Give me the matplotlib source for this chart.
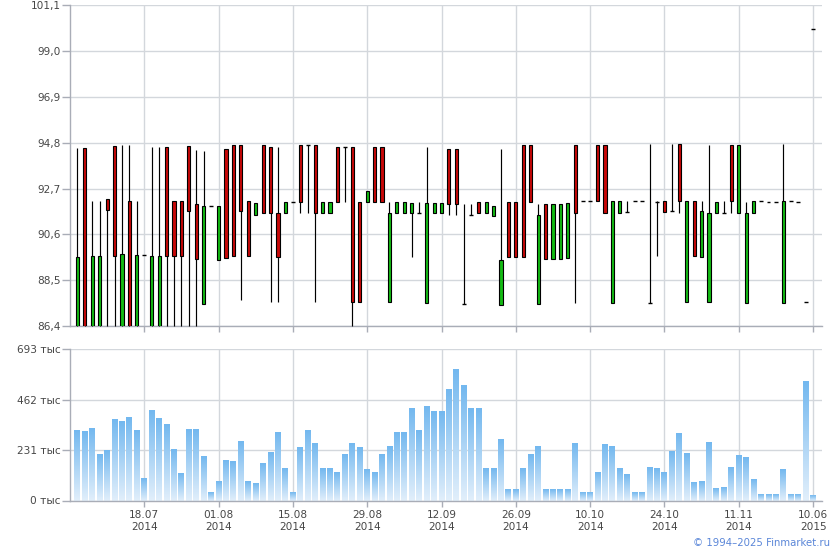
import numpy as np
import matplotlib
matplotlib.use("Agg")
import matplotlib.pyplot as plt
from matplotlib.colors import LinearSegmentedColormap
from matplotlib.patches import Rectangle

# ---------------- data ----------------
opens = [86.4, 94.57, 86.4, 86.4, 92.2, 94.66, 86.4, 92.15, 86.4, 89.65,
         86.4, 86.4, 94.6, 92.15, 92.15, 94.66, 91.97, 87.42, 91.92, 89.41,
         94.53, 94.68, 94.68, 92.15, 91.51, 94.68, 94.62, 91.6, 91.6, 92.1,
         94.68, 94.68, 94.68, 91.6, 91.6, 94.62, 94.62, 94.62, 92.1, 92.1,
         94.62, 94.62, 87.49, 91.56, 91.56, 91.56, 91.56, 87.45, 91.56, 91.56,
         94.53, 94.53, 87.4, 91.5, 92.1, 91.56, 91.42, 87.36, 92.1, 92.1,
         94.68, 94.68, 87.4, 92.01, 89.46, 89.46, 89.5, 94.68, 92.15, 92.15,
         94.71, 94.68, 87.47, 91.6, 91.64, 92.15, 92.15, 87.47, 92.1, 92.15,
         91.65, 94.75, 87.49, 92.15, 89.55, 87.49, 91.6, 91.6, 94.71, 91.6,
         87.45, 91.6, 92.15, 92.1, 92.1, 87.45, 92.15, 92.1, 87.49, 100.0]
highs = [94.57, 94.57, 92.11, 92.11, 92.2, 94.66, 94.7, 94.68, 92.15, 89.65,
         94.6, 94.6, 94.6, 92.15, 92.15, 94.66, 94.48, 94.43, 91.92, 91.92,
         94.53, 94.68, 94.68, 92.15, 92.06, 94.68, 94.62, 94.62, 92.1, 92.1,
         94.68, 94.68, 94.68, 92.1, 92.1, 94.62, 94.62, 94.62, 92.1, 92.61,
         94.62, 94.62, 92.1, 92.1, 92.1, 92.06, 92.1, 94.62, 92.06, 92.06,
         94.53, 94.53, 92.01, 92.01, 92.1, 92.1, 91.92, 94.53, 92.1, 92.1,
         94.68, 94.68, 92.01, 92.01, 92.01, 92.01, 92.06, 94.68, 92.15, 92.15,
         94.71, 94.68, 92.15, 92.15, 92.15, 92.15, 92.15, 94.75, 92.15, 92.15,
         94.75, 94.75, 92.15, 92.15, 92.15, 94.71, 92.1, 92.15, 94.71, 94.71,
         92.1, 92.15, 92.15, 92.1, 92.1, 94.75, 92.15, 92.1, 87.49, 100.0]
lows = [86.4, 86.4, 86.4, 86.4, 86.4, 86.4, 86.4, 86.4, 86.4, 89.65,
        86.4, 86.4, 86.4, 86.4, 86.4, 86.4, 86.4, 87.42, 91.92, 89.41,
        89.5, 89.62, 87.57, 89.62, 91.51, 91.6, 87.52, 87.52, 91.6, 92.1,
        91.6, 91.6, 87.52, 91.6, 91.6, 92.1, 92.1, 86.4, 87.52, 92.1,
        92.1, 92.1, 87.49, 91.56, 91.56, 89.55, 91.56, 87.45, 91.56, 91.56,
        91.47, 91.47, 87.4, 91.5, 91.6, 91.56, 91.42, 87.36, 89.55, 89.55,
        89.55, 92.1, 87.4, 89.46, 89.46, 89.46, 89.5, 87.47, 92.15, 92.15,
        92.15, 91.6, 87.47, 91.6, 91.64, 92.15, 92.15, 87.47, 89.6, 91.64,
        91.65, 91.6, 87.49, 89.6, 89.55, 87.49, 91.6, 91.6, 91.6, 91.6,
        87.45, 91.6, 92.15, 92.1, 92.1, 87.45, 92.15, 92.1, 87.49, 100.0]
closes = [89.55, 86.4, 89.6, 89.6, 91.7, 89.62, 89.7, 86.4, 89.65, 89.65,
          89.6, 89.6, 89.6, 89.62, 89.6, 91.65, 89.46, 91.92, 91.92, 91.92,
          89.5, 89.62, 91.65, 89.62, 92.06, 91.6, 91.56, 89.55, 92.1, 92.1,
          92.1, 94.68, 91.6, 92.1, 92.1, 92.1, 94.62, 87.52, 87.52, 92.61,
          92.1, 92.1, 91.6, 92.1, 92.1, 92.06, 91.56, 92.06, 92.06, 92.06,
          91.97, 91.97, 87.4, 91.5, 91.6, 92.1, 91.92, 89.41, 89.55, 89.55,
          89.55, 92.1, 91.51, 89.46, 92.01, 92.01, 92.06, 91.6, 92.15, 92.15,
          92.15, 91.6, 92.15, 92.15, 91.64, 92.15, 92.15, 87.47, 92.1, 91.64,
          91.65, 92.15, 92.15, 89.6, 91.65, 91.6, 92.1, 91.6, 92.15, 94.71,
          91.6, 92.15, 92.15, 92.1, 92.1, 92.15, 92.15, 92.1, 87.49, 100.0]
volumes = [323, 319, 333, 213, 231, 374, 365, 383, 323, 102,
           416, 379, 351, 236, 125, 328, 328, 203, 37, 88,
           185, 180, 273, 88, 79, 171, 222, 314, 148, 37,
           245, 323, 263, 148, 148, 129, 213, 263, 245, 143,
           129, 213, 249, 314, 314, 425, 323, 430, 411, 411,
           508, 601, 527, 425, 425, 148, 148, 282, 51, 51,
           148, 213, 249, 51, 51, 51, 51, 263, 37, 37,
           129, 259, 249, 148, 120, 37, 37, 152, 148, 129,
           226, 310, 217, 83, 88, 268, 55, 60, 152, 208,
           199, 97, 28, 28, 28, 143, 28, 28, 545, 23]
date_labels = ["18.07\n2014", "01.08\n2014", "15.08\n2014", "29.08\n2014",
               "12.09\n2014", "26.09\n2014", "10.10\n2014", "24.10\n2014",
               "11.11\n2014", "10.06\n2015"]
price_ticks = [86.4, 88.5, 90.6, 92.7, 94.8, 96.9, 99.0, 101.1]
vol_ticks = [0, 231, 462, 693]

# ---------------- style ----------------
W, H = 840, 550
GRID = "#d3d7dc"
SPINE = "#a9adb7"
TXT = "#474747"
UP = "#14bb14"
DOWN = "#c80808"
FS = 7.6

fig = plt.figure(figsize=(W / 100, H / 100), dpi=100)
x0 = 70.3 / W
wd = (822 - 70.3) / W
ax1 = fig.add_axes([x0, 1 - 326 / H, wd, (326 - 5.3) / H])
ax2 = fig.add_axes([x0, 1 - 500.5 / H, wd, (500.5 - 349) / H])

n = len(opens)
idx = np.arange(n)
tick_pos = list(range(9, n, 10))
xlim = (-0.95, 100.2)


def style(ax):
    for s in ("top", "right"):
        ax.spines[s].set_visible(False)
    for s in ("left", "bottom"):
        ax.spines[s].set_color(SPINE)
        ax.spines[s].set_linewidth(1.0)
    ax.set_axisbelow(True)
    ax.grid(True, color=GRID, linewidth=1.0)
    ax.tick_params(axis="y", colors=SPINE, labelcolor=TXT, labelsize=FS,
                   length=5.8, width=1.0, pad=1)
    ax.tick_params(axis="x", colors=SPINE, labelcolor=TXT, labelsize=FS,
                   length=4.5, width=1.0, pad=2.5)
    ax.set_xticks(tick_pos)
    ax.set_xlim(*xlim)


# ---------------- candles ----------------
style(ax1)
ax1.set_ylim(price_ticks[0], price_ticks[-1])
ax1.set_yticks(price_ticks)
ax1.set_yticklabels([f"{t:.1f}".replace(".", ",") for t in price_ticks])
ax1.set_xticklabels([])
bw = 0.42
for i in range(n):
    o, h, l, c = opens[i], highs[i], lows[i], closes[i]
    if h > l:
        ax1.plot([i, i], [l, h], color="black", lw=0.85, zorder=3,
                 solid_capstyle="butt", clip_on=False)
    if abs(c - o) < 1e-9:
        ax1.plot([i - bw / 2 - 0.05, i + bw / 2 + 0.05], [o, o], color="black",
                 lw=1.0, zorder=4, solid_capstyle="butt")
    else:
        col = UP if c > o else DOWN
        ax1.add_patch(Rectangle((i - bw / 2, min(o, c)), bw, abs(c - o),
                                facecolor=col, edgecolor="black", lw=0.8,
                                zorder=4))

# ---------------- volume ----------------
style(ax2)
ax2.set_ylim(0, vol_ticks[-1])
ax2.set_yticks(vol_ticks)
ax2.set_yticklabels([f"{v} тыс" for v in vol_ticks])
ax2.set_xticklabels(date_labels, linespacing=1.25)
cmap = LinearSegmentedColormap.from_list("g", ["#e2effb", "#73b8ef"])
grad = np.linspace(0, 1, 128).reshape(-1, 1)
vw = 0.8
for i, v in enumerate(volumes):
    ax2.imshow(grad, cmap=cmap, origin="lower", aspect="auto",
               extent=(i - vw / 2, i + vw / 2, 0, v), zorder=2,
               interpolation="bilinear")
ax2.set_xlim(*xlim)
ax2.set_ylim(0, vol_ticks[-1])
ax2.set_xticks(idx, minor=True)
ax2.tick_params(axis="x", which="minor", length=1.5, width=0.8, colors=SPINE,
                direction="in")

fig.text(830 / W, 1 - 542.5 / H, "© 1994–2025 Finmarket.ru", ha="right",
         va="center", color="#5a86d8", fontsize=7.3)

fig.savefig("out.png", dpi=100)
